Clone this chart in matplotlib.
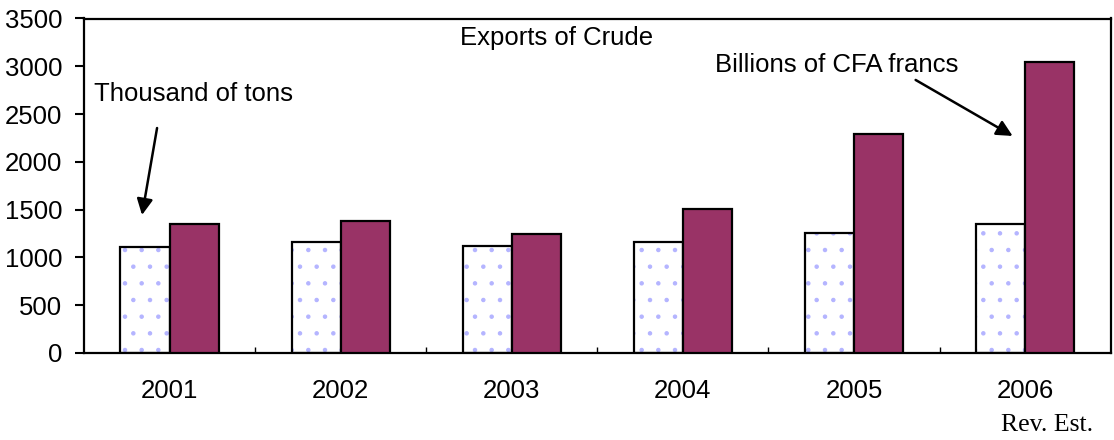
import matplotlib
matplotlib.use("Agg")
import matplotlib.pyplot as plt
import numpy as np

years = ["2001", "2002", "2003", "2004", "2005", "2006"]
thousand_tons = [1110, 1160, 1115, 1160, 1255, 1350]
billions_cfa = [1345, 1380, 1245, 1505, 2290, 3040]
yticks = [0, 500, 1000, 1500, 2000, 2500, 3000, 3500]

plt.rcParams['font.family'] = ['Liberation Sans', 'DejaVu Sans']
plt.rcParams['hatch.linewidth'] = 0.8

FS = 18.5

fig = plt.figure(figsize=(11.14, 4.40), dpi=100)
ax = fig.add_axes([84/1114, 1-353/440, (1110.7-84)/1114, (353-18.5)/440])

x = np.arange(len(years))
w = 0.287

# dotted white bars
ax.bar(x - w/2, thousand_tons, width=w, color='white', edgecolor='#b4b4ff',
       hatch='.', linewidth=0, zorder=2)
ax.bar(x - w/2, thousand_tons, width=w, fill=False, edgecolor='black',
       linewidth=1.6, zorder=3)
ax.bar(x + w/2, billions_cfa, width=w, color='#993366', edgecolor='black',
       linewidth=1.6, zorder=3)

ax.set_xlim(-0.5, len(years) - 0.5)
ax.set_ylim(0, 3500)
ax.set_yticks(yticks)
ax.set_yticklabels([str(v) for v in yticks], fontsize=FS)
ax.tick_params(axis='y', direction='out', length=6.5, width=1.5, pad=9)

ax.set_xticks(x)
ax.set_xticklabels(years, fontsize=FS)
ax.tick_params(axis='x', which='major', length=0, pad=19)
ax.set_xticks(np.arange(0.5, len(years) - 1, 1.0), minor=True)
ax.tick_params(axis='x', which='minor', direction='in', length=4, width=1.0)

for s in ax.spines.values():
    s.set_linewidth(1.6)
    s.set_color('black')

ax.text(2.26, 3296, "Exports of Crude", ha='center', va='center', fontsize=FS)
ax.text(-0.44, 2710, "Thousand of tons", ha='left', va='center', fontsize=FS)
ax.text(3.898, 3013, "Billions of CFA francs", ha='center', va='center', fontsize=FS)

arrow = dict(arrowstyle='-|>', color='black', lw=1.8, mutation_scale=24,
             shrinkA=0, shrinkB=0)
ax.annotate("", xy=(-0.161, 1444), xytext=(-0.073, 2354), arrowprops=arrow)
ax.annotate("", xy=(4.927, 2271), xytext=(4.36, 2857), arrowprops=arrow)

fig.text(0.94, 1-425/440, "Rev. Est.", ha='center', va='center', fontsize=FS,
         family=['Liberation Serif', 'DejaVu Serif'])

fig.savefig("out.png", dpi=100)
